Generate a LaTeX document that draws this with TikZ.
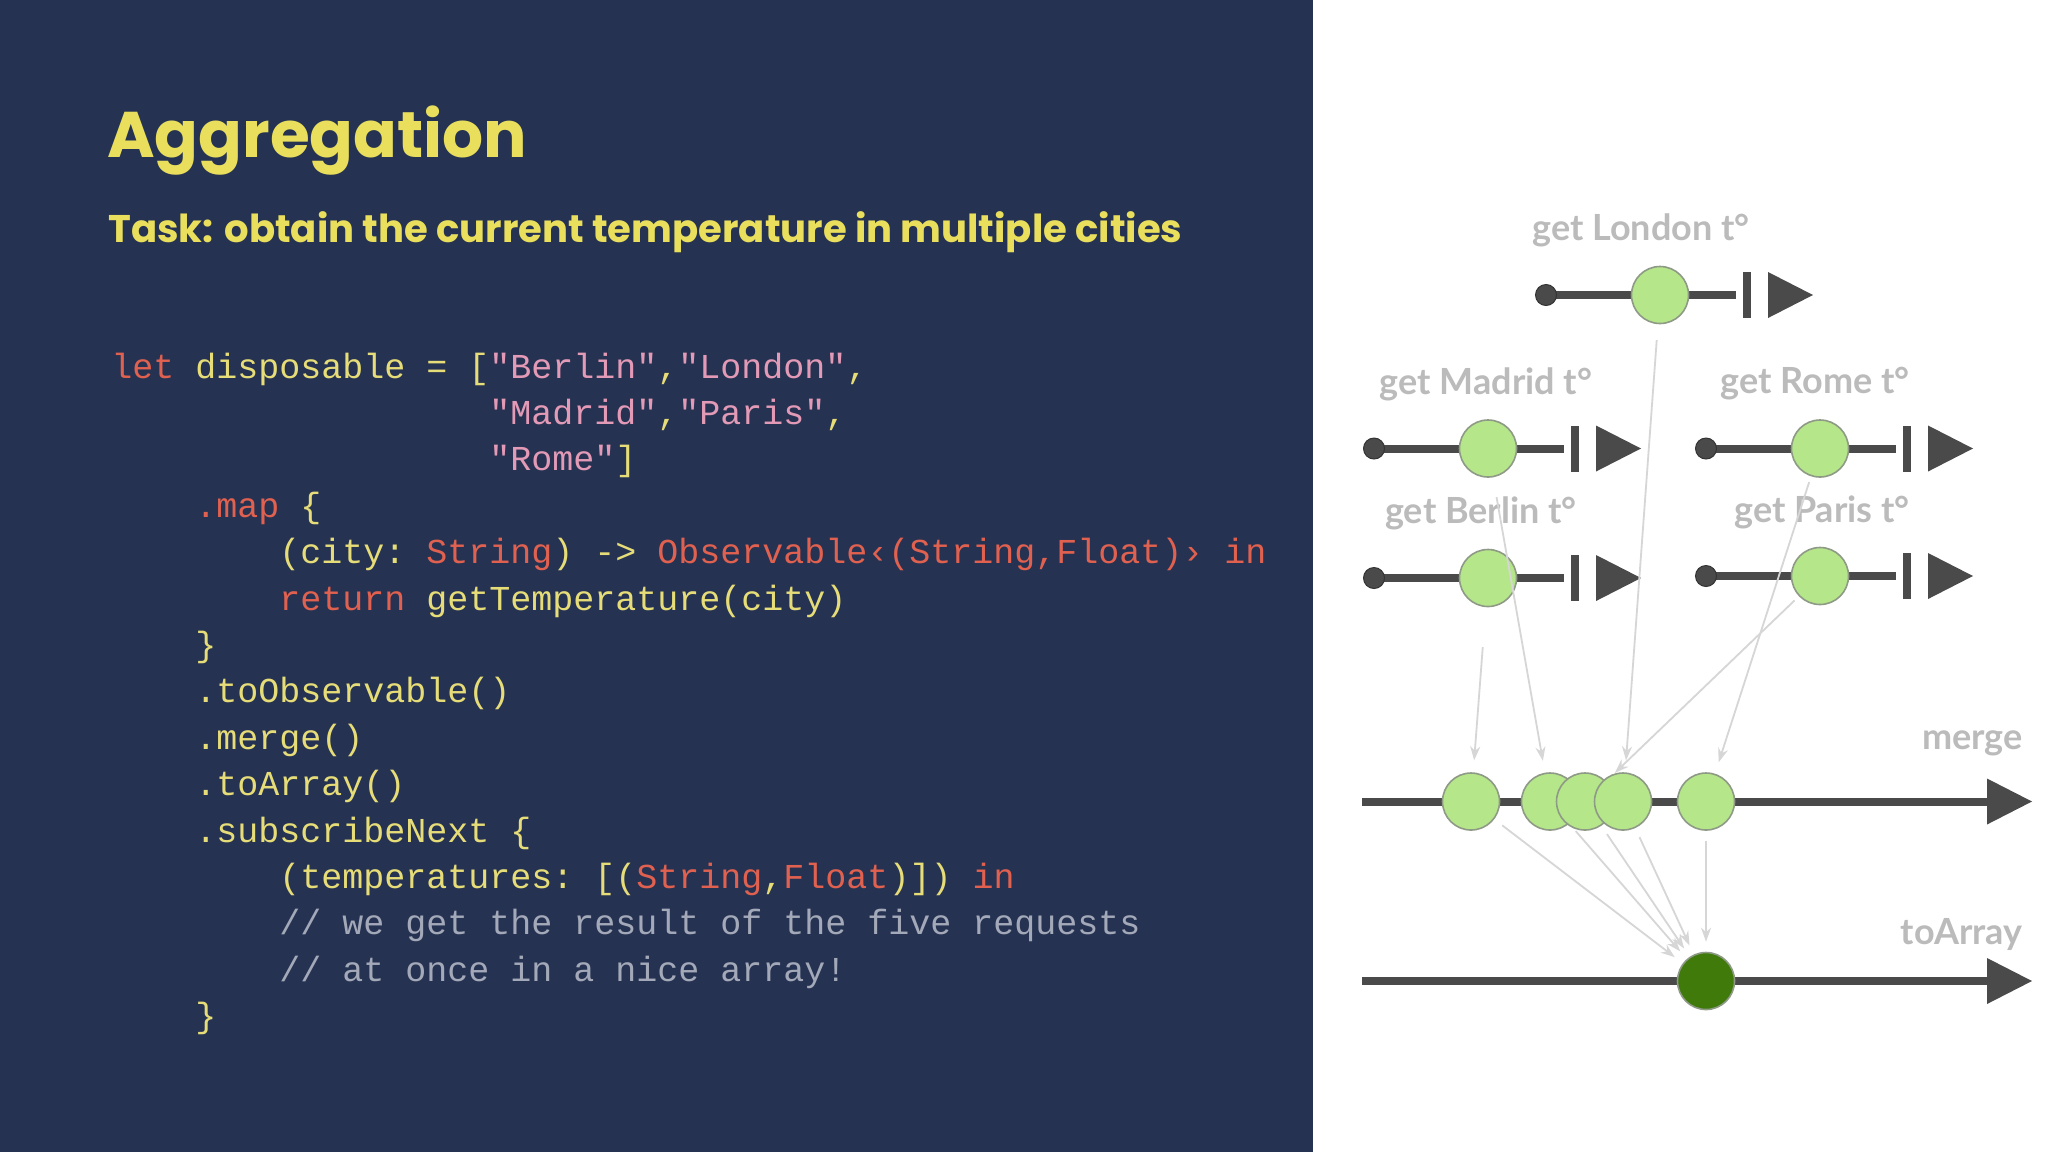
\documentclass[tikz,border=0pt]{standalone}
\usepackage{fontspec}
\setmainfont{Lato}
\setmonofont{Liberation Mono}
\newfontfamily\titlefont{Poppins}
\usetikzlibrary{arrows.meta,shapes.geometric}
\definecolor{navy}{HTML}{253252}
\definecolor{ttl}{HTML}{E9DF5C}
\definecolor{cy}{HTML}{E6DC78}
\definecolor{cr}{HTML}{E0614F}
\definecolor{cp}{HTML}{E39AB6}
\definecolor{cg}{HTML}{A3A9B8}
\definecolor{lin}{HTML}{4A4A4A}
\definecolor{evt}{HTML}{B6E68A}
\definecolor{evb}{HTML}{8E9A86}
\definecolor{dk}{HTML}{3F7A0A}
\definecolor{lbl}{HTML}{BBBBBB}
\definecolor{con}{HTML}{D6D6D6}
\tikzset{
 code/.style={anchor=base west,inner sep=0pt,font=\ttfamily\fontsize{17.5}{20}\selectfont,text=cy},
 lab/.style={font=\bfseries\fontsize{18}{20}\selectfont,text=lbl,inner sep=0pt},
 ev/.style={ellipse,draw=evb,line width=0.8pt,fill=evt,minimum width=28.5pt,minimum height=28.5pt,inner sep=0pt},
 evdark/.style={ev,fill=dk,draw=evb},
 tl/.style={line width=4pt,draw=lin},
 startdot/.style={circle,fill=lin,draw=black!80,line width=0.5pt,minimum size=10.5pt,inner sep=0pt},
 conn/.style={draw=con,line width=0.9pt,-{Stealth[length=7pt,width=5pt]}},
}
\usepackage{graphicx}
\begin{document}
\begin{tikzpicture}[x=0.5pt,y=-0.5pt]
\fill[white] (0,0) rectangle (2048,1152);
\fill[navy] (0,0) rectangle (1313,1152);
\node[anchor=base west,inner sep=0pt,text=ttl] (title) at (107,157) {\resizebox{210pt}{!}{\titlefont\bfseries Aggregation}};
\node[anchor=base west,inner sep=0pt,text=ttl] (task) at (108,242) {\resizebox{537pt}{!}{\titlefont\bfseries Task: obtain the current temperature in multiple cities}};
% code
\def\L#1{111+#1*21}
\node[code] (c1) at ({\L0},378) {\textcolor{cr}{let} disposable = [\textcolor{cp}{"Berlin"},\textcolor{cp}{"London"},};
\node[code] (c2) at ({\L{18}},424.4) {\textcolor{cp}{"Madrid"},\textcolor{cp}{"Paris"},};
\node[code] (c3) at ({\L{18}},470.8) {\textcolor{cp}{"Rome"}]};
\node[code] (c4) at ({\L4},517.2) {\textcolor{cr}{.map} \{};
\node[code] (c5) at ({\L8},563.6) {(city: \textcolor{cr}{String}) -> \textcolor{cr}{Observable\char"2039(String,Float)\char"203A{} in}};
\node[code] (c6) at ({\L8},610) {\textcolor{cr}{return} getTemperature(city)};
\node[code] (c7) at ({\L4},656.4) {\}};
\node[code] (c8) at ({\L4},702.8) {.toObservable()};
\node[code] (c9) at ({\L4},749.2) {.merge()};
\node[code] (c10) at ({\L4},795.6) {.toArray()};
\node[code] (c11) at ({\L4},842) {.subscribeNext \{};
\node[code] (c12) at ({\L8},888.4) {(temperatures: [(\textcolor{cr}{String},\textcolor{cr}{Float})]) \textcolor{cr}{in}};
\node[code,text=cg] (c13) at ({\L8},934.8) {// we get the result of the five requests};
\node[code,text=cg] (c14) at ({\L8},981.2) {// at once in a nice array!};
\node[code] (c15) at ({\L4},1027.6) {\}};
% timelines
\def\stream#1#2#3{% name, x of dot, y
  \draw[tl] (#2,#3) -- (#2+190,#3);
  \node[startdot] (#1s) at (#2,#3) {};
  \fill[lin] (#2+197,#3-23) rectangle (#2+205,#3+23);
  \fill[lin] (#2+222,#3-23) -- (#2+267,#3) -- (#2+222,#3+23) -- cycle;
  \node[ev] (#1) at (#2+114,#3) {};
}
\stream{lon}{1546}{295}
\stream{mad}{1374}{448.5}
\stream{rom}{1706}{448.5}
\stream{ber}{1374}{578}
\stream{par}{1706}{576}
\node[lab] (llon) at (1641,230) {get London t°};
\node[lab] (lmad) at (1486,384) {get Madrid t°};
\node[lab] (lrom) at (1815,384) {get Rome t°};
\node[lab] (lber) at (1481,513) {get Berlin t°};
\node[lab] (lpar) at (1822,512) {get Paris t°};
% merge
\draw[tl] (1362,801.5) -- (1990,801.5);
\fill[lin] (1987,778.5) -- (2032,801.5) -- (1987,824.5) -- cycle;
\node[ev] (m1) at (1471,801.5) {};
\node[ev] (m2) at (1550,801.5) {};
\node[ev] (m3) at (1585,801.5) {};
\node[ev] (m4) at (1623,801.5) {};
\node[ev] (m5) at (1706,801.5) {};
\node[lab,anchor=east] (lmerge) at (2023,743) {merge};
% toArray
\draw[tl] (1362,981) -- (1990,981);
\fill[lin] (1987,958) -- (2032,981) -- (1987,1004) -- cycle;
\node[evdark] (arr) at (1706,981) {};
\node[lab,anchor=east] (larr) at (2023,934) {toArray};
% connectors
\draw[conn,shorten <=20pt,shorten >=6pt] (ber) -- (m1);
\draw[conn,shorten <=10pt,shorten >=6pt] (mad) -- (m2);
\draw[conn,shorten <=8pt,shorten >=6pt] (lon) -- (m4);
\draw[conn,shorten <=3pt,shorten >=6pt] (par) -- (m3);
\draw[conn,shorten <=3pt,shorten >=6pt] (rom) -- (m5);
\draw[conn,shorten <=5pt,shorten >=5pt] (m1) -- (arr);
\draw[conn,shorten <=5pt,shorten >=5pt] (m2) -- (arr);
\draw[conn,shorten <=5pt,shorten >=5pt] (m3) -- (arr);
\draw[conn,shorten <=5pt,shorten >=5pt] (m4) -- (arr);
\draw[conn,shorten <=5pt,shorten >=5pt] (m5) -- (arr);
\end{tikzpicture}
\end{document}
